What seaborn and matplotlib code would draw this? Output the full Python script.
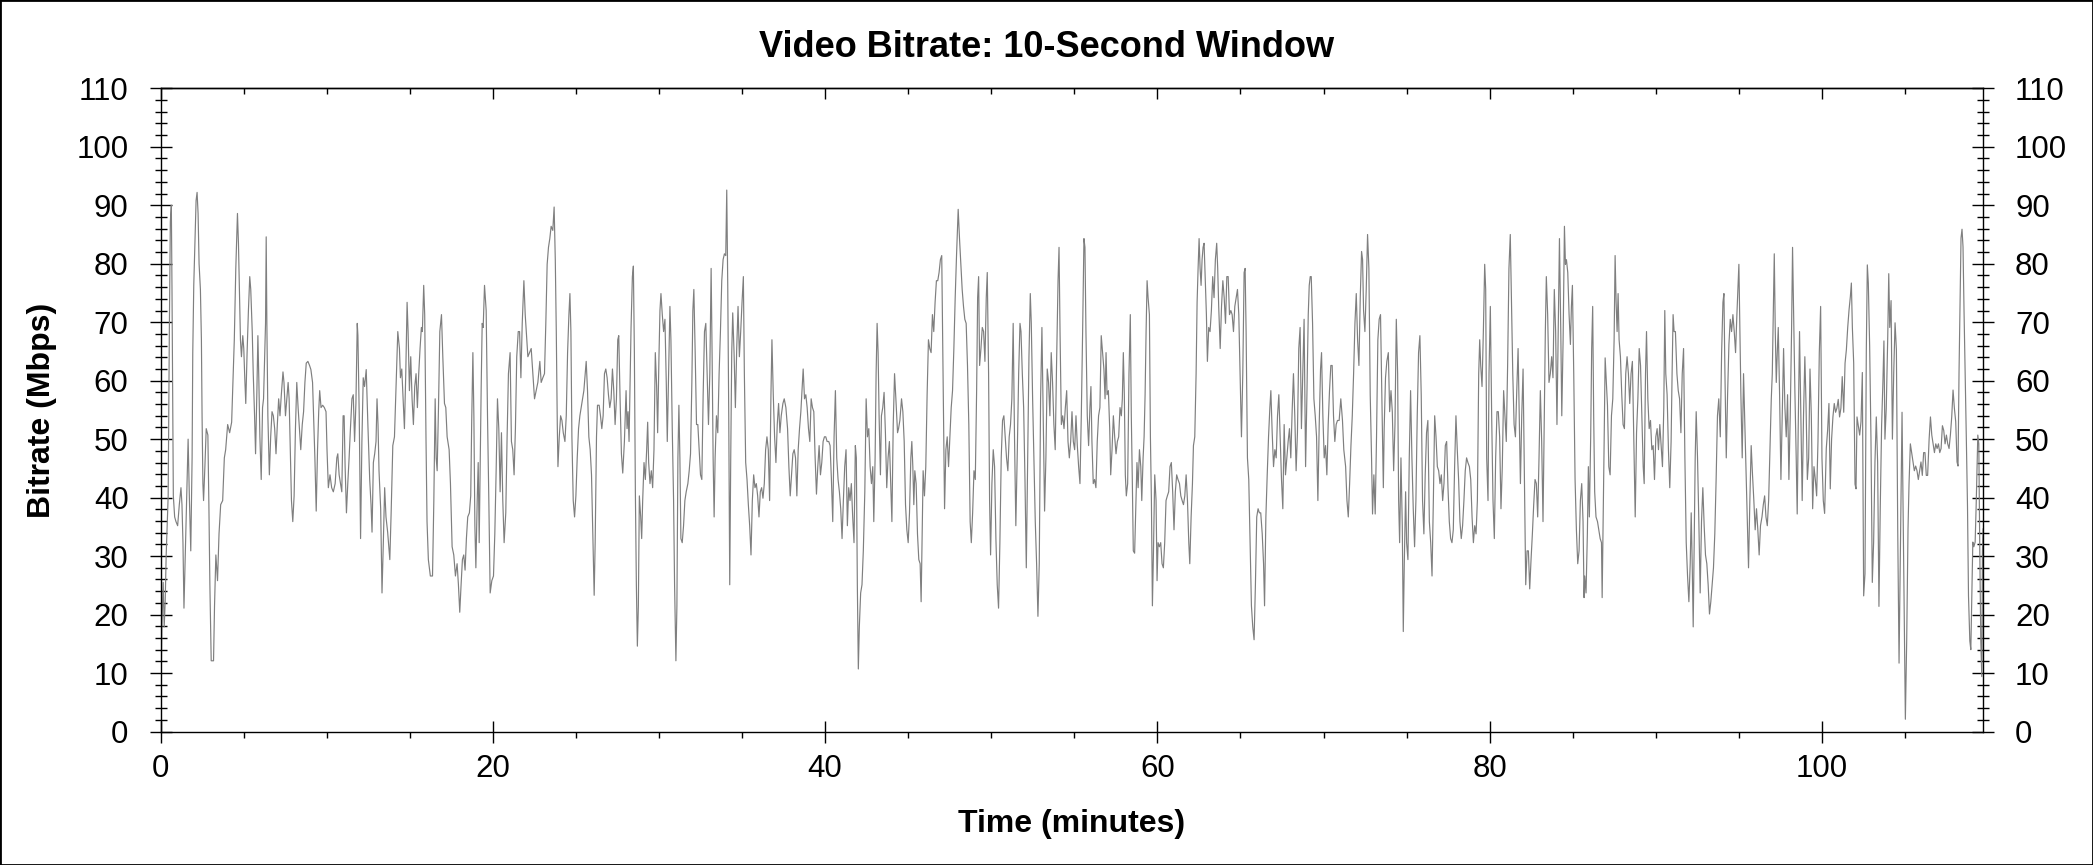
import numpy as np
import pandas as pd
import seaborn as sns
import matplotlib.pyplot as plt
from matplotlib.patches import Rectangle
from matplotlib.ticker import MultipleLocator

# (minute, Mbps), one list per stretch of the film
seg_00 = [(0.00, 1.0), (0.08, 17.9), (0.16, 25.5), (0.22, 17.9), (0.28, 22.2), (0.34, 30.2), (0.40, 35.2),
          (0.46, 40.3), (0.53, 68.4), (0.59, 87.2), (0.65, 90.0), (0.69, 75.6), (0.73, 56.9), (0.77, 40.3),
          (0.85, 36.7), (0.93, 35.9), (1.03, 35.2), (1.13, 38.8), (1.23, 41.7), (1.29, 38.8), (1.35, 32.3),
          (1.41, 21.1), (1.49, 30.2), (1.58, 40.3), (1.66, 50.0), (1.74, 39.5), (1.82, 30.9), (1.90, 46.8),
          (1.94, 64.8), (2.00, 76.3), (2.06, 82.8), (2.14, 90.8), (2.20, 92.2), (2.26, 88.6), (2.32, 80.0),
          (2.40, 75.6), (2.46, 67.0), (2.50, 54.0), (2.55, 42.4), (2.59, 39.5), (2.67, 45.3), (2.75, 51.8),
          (2.85, 50.7), (2.91, 38.8), (2.97, 25.1), (3.05, 12.1), (3.19, 12.1), (3.25, 21.5), (3.33, 30.2),
          (3.43, 25.8), (3.52, 33.8), (3.62, 38.8), (3.74, 39.5), (3.84, 46.8), (3.92, 48.2), (4.04, 52.5),
          (4.16, 51.1), (4.28, 52.9), (4.36, 59.7), (4.44, 67.0), (4.53, 79.2), (4.63, 88.6), (4.69, 83.5),
          (4.75, 74.9), (4.81, 67.0), (4.87, 64.1), (4.95, 67.7), (5.01, 65.5), (5.07, 60.5), (5.13, 56.1),
          (5.21, 64.8), (5.29, 72.0), (5.37, 77.8), (5.43, 75.6), (5.52, 68.4), (5.58, 61.2), (5.66, 54.0),
          (5.72, 47.5), (5.80, 58.3), (5.86, 67.7), (5.92, 59.7), (5.98, 50.4), (6.06, 43.1), (6.14, 55.4),
          (6.20, 56.9), (6.26, 63.3), (6.32, 69.8), (6.36, 84.6), (6.40, 69.8), (6.46, 54.0), (6.55, 43.9),
          (6.63, 50.4), (6.71, 54.7), (6.79, 54.0), (6.87, 51.8), (6.95, 47.5), (7.03, 52.5), (7.11, 56.9),
          (7.19, 54.0), (7.27, 57.6), (7.37, 61.5), (7.43, 59.7), (7.52, 54.0), (7.60, 56.9), (7.68, 59.7),
          (7.74, 56.9), (7.80, 49.6), (7.88, 39.5), (7.96, 35.9), (8.04, 40.3), (8.12, 51.8), (8.20, 59.7),
          (8.28, 55.4), (8.36, 51.8), (8.44, 48.2), (8.53, 52.5), (8.61, 54.7), (8.69, 59.7), (8.77, 63.0),
          (8.87, 63.3), (8.97, 62.6), (9.05, 61.9), (9.15, 59.7), (9.21, 54.0), (9.29, 46.8), (9.37, 37.7),
          (9.45, 48.2), (9.52, 54.7), (9.58, 58.3), (9.66, 55.4), (9.76, 55.8), (9.86, 55.4), (9.96, 54.7),
          (10.02, 48.2), (10.10, 41.7), (10.20, 43.9), (10.30, 41.7), (10.40, 41.0), (10.51, 42.4),
          (10.61, 46.8), (10.67, 47.5), (10.75, 43.9), (10.83, 42.4), (10.91, 41.0), (10.99, 54.0),
          (11.05, 54.0), (11.11, 45.3), (11.19, 37.4), (11.27, 42.4), (11.35, 46.8), (11.43, 51.8),
          (11.52, 56.9), (11.60, 57.6), (11.68, 49.6), (11.76, 56.1), (11.84, 69.8), (11.88, 67.7),
          (11.96, 54.0), (12.04, 33.0), (12.12, 49.6), (12.20, 60.5), (12.28, 59.0), (12.38, 61.9),
          (12.48, 52.5), (12.59, 43.1), (12.67, 38.8), (12.73, 34.1), (12.81, 46.0), (12.89, 47.5),
          (12.97, 49.6), (13.03, 56.9), (13.09, 52.5), (13.15, 44.6), (13.25, 38.1), (13.33, 23.7),
          (13.41, 32.3), (13.49, 41.7)]

seg_14 = [(13.57, 36.7), (13.67, 34.1), (13.80, 29.4), (13.88, 37.4), (13.98, 48.9), (14.08, 50.4),
          (14.18, 59.7), (14.28, 68.4), (14.38, 65.5), (14.44, 60.5), (14.52, 62.0), (14.60, 56.9),
          (14.68, 51.8), (14.76, 61.2), (14.84, 73.4), (14.90, 68.4), (14.98, 58.3), (15.06, 64.1),
          (15.14, 56.9), (15.22, 52.5), (15.30, 59.0), (15.38, 61.2), (15.46, 55.4), (15.54, 61.2),
          (15.62, 65.5), (15.70, 69.1), (15.76, 68.4), (15.84, 76.3), (15.90, 71.3), (15.98, 49.6),
          (16.04, 35.9), (16.12, 29.4), (16.24, 26.6), (16.37, 26.6), (16.45, 39.5), (16.53, 56.9),
          (16.59, 46.8), (16.65, 44.6), (16.73, 55.4), (16.81, 68.4), (16.91, 71.3), (16.99, 64.1),
          (17.09, 56.1), (17.17, 55.4), (17.25, 50.4), (17.37, 48.2), (17.45, 42.4), (17.55, 31.6),
          (17.65, 30.2), (17.75, 26.6), (17.85, 28.7), (17.93, 25.1), (18.01, 20.4), (18.09, 25.1),
          (18.17, 29.4), (18.25, 30.2), (18.33, 27.6), (18.41, 33.0), (18.49, 36.7), (18.59, 37.4),
          (18.67, 40.3), (18.73, 53.2), (18.80, 64.8), (18.86, 54.0), (18.92, 35.2), (18.98, 28.0),
          (19.06, 39.5), (19.12, 46.0), (19.18, 32.3), (19.24, 45.3), (19.30, 59.0), (19.36, 69.8),
          (19.42, 69.1), (19.50, 76.3), (19.60, 72.0), (19.68, 54.0), (19.76, 39.5), (19.84, 23.7),
          (19.94, 25.8), (20.04, 26.6), (20.12, 33.8), (20.20, 44.6), (20.28, 56.9), (20.36, 51.8),
          (20.44, 41.0), (20.52, 51.1), (20.60, 39.5), (20.68, 32.3), (20.78, 37.4), (20.86, 50.4),
          (20.94, 61.2), (21.04, 64.8), (21.12, 49.6), (21.20, 48.2), (21.28, 43.9), (21.36, 51.8),
          (21.44, 64.1), (21.53, 68.4), (21.61, 68.4), (21.69, 60.5), (21.77, 69.8), (21.87, 77.1),
          (21.95, 71.3), (22.03, 67.7), (22.11, 64.1), (22.21, 64.8), (22.31, 65.5), (22.41, 61.2),
          (22.51, 56.9), (22.61, 58.3), (22.71, 59.7), (22.83, 63.3), (22.91, 59.7), (23.01, 60.5),
          (23.11, 61.2), (23.19, 69.8), (23.27, 79.9), (23.35, 82.8), (23.43, 84.3), (23.51, 86.4),
          (23.61, 85.7), (23.69, 89.7), (23.76, 80.7), (23.82, 68.4), (23.88, 52.5), (23.92, 45.3),
          (24.00, 50.4), (24.08, 54.0), (24.16, 53.2), (24.24, 51.1), (24.34, 49.6), (24.42, 54.0),
          (24.50, 64.8), (24.58, 71.3), (24.64, 74.9), (24.70, 68.4), (24.76, 50.4), (24.84, 39.5),
          (24.92, 36.7), (25.00, 40.3), (25.08, 46.8), (25.16, 51.8), (25.24, 54.0), (25.32, 55.4),
          (25.40, 56.9), (25.48, 58.3), (25.54, 60.5), (25.62, 63.3), (25.70, 58.3), (25.78, 50.4),
          (25.86, 48.2), (25.94, 43.9), (26.02, 33.8), (26.10, 23.3), (26.16, 32.3), (26.24, 50.4),
          (26.30, 55.8), (26.40, 55.8), (26.48, 54.0), (26.56, 51.8), (26.64, 54.0), (26.72, 61.2),
          (26.80, 62.0), (26.88, 60.5), (26.96, 57.6), (27.04, 55.4), (27.12, 56.9), (27.20, 62.0),
          (27.28, 58.3), (27.36, 52.5), (27.44, 56.9), (27.52, 67.0), (27.58, 67.7), (27.66, 56.9),
          (27.74, 47.5), (27.82, 44.2), (27.92, 49.6)]

seg_28 = [(28.02, 58.3), (28.08, 51.8), (28.14, 54.7), (28.20, 49.6), (28.26, 59.7), (28.32, 69.1),
          (28.40, 77.8), (28.46, 79.6), (28.52, 64.8), (28.58, 41.0), (28.64, 25.1), (28.70, 14.6),
          (28.76, 21.5), (28.82, 40.3), (28.90, 36.7), (28.96, 33.0), (29.02, 39.5), (29.10, 46.0),
          (29.18, 43.1), (29.26, 48.2), (29.32, 52.9), (29.38, 46.0), (29.46, 42.4), (29.54, 44.6),
          (29.62, 41.7), (29.70, 48.2), (29.78, 64.8), (29.86, 59.0), (29.92, 51.1), (30.00, 64.1),
          (30.06, 72.0), (30.12, 74.9), (30.20, 71.3), (30.28, 68.4), (30.36, 70.5), (30.44, 59.7),
          (30.50, 49.6), (30.58, 61.2), (30.66, 72.7), (30.72, 67.0), (30.80, 51.8), (30.88, 39.5),
          (30.94, 25.1), (31.02, 12.1), (31.08, 21.5), (31.14, 46.8), (31.20, 55.8), (31.26, 46.8),
          (31.32, 33.0), (31.40, 32.3), (31.48, 35.2), (31.56, 39.5), (31.64, 41.0), (31.74, 42.4),
          (31.82, 44.6), (31.90, 47.5), (31.98, 59.7), (32.04, 72.0), (32.10, 75.6), (32.18, 64.8),
          (32.26, 52.5), (32.34, 52.5), (32.42, 48.2), (32.50, 43.9), (32.58, 43.1), (32.66, 57.6),
          (32.74, 68.4), (32.82, 69.8), (32.90, 61.2), (32.98, 52.5), (33.06, 61.2), (33.14, 79.2),
          (33.20, 64.1), (33.26, 46.8), (33.32, 36.7), (33.38, 46.8), (33.46, 54.0), (33.54, 51.1),
          (33.62, 61.2), (33.70, 68.4), (33.78, 77.1), (33.86, 80.7), (33.94, 81.7), (34.02, 81.4),
          (34.08, 92.6), (34.14, 76.3), (34.20, 54.0), (34.26, 25.1), (34.32, 46.8), (34.38, 64.8),
          (34.44, 71.6), (34.52, 64.8), (34.60, 55.4), (34.68, 65.5), (34.76, 72.7), (34.84, 64.1),
          (34.92, 68.4), (35.00, 73.4), (35.08, 77.8), (35.14, 61.2), (35.22, 46.0), (35.30, 43.1),
          (35.38, 38.8), (35.46, 35.2), (35.54, 30.2), (35.62, 39.5), (35.70, 43.9), (35.78, 41.7),
          (35.86, 42.4), (35.94, 40.3), (36.02, 36.7), (36.10, 41.0), (36.18, 41.7), (36.26, 39.9),
          (36.34, 42.4), (36.42, 48.2), (36.50, 50.4), (36.58, 48.2), (36.66, 39.5), (36.74, 57.6),
          (36.80, 67.0), (36.88, 57.6), (36.96, 50.4), (37.04, 46.0), (37.12, 52.5), (37.20, 56.1),
          (37.28, 51.1), (37.36, 54.0), (37.46, 56.1), (37.54, 56.9), (37.64, 55.4), (37.74, 51.8),
          (37.82, 45.3), (37.90, 40.3), (37.98, 43.9), (38.06, 47.5), (38.14, 48.2), (38.22, 46.8),
          (38.30, 40.3), (38.38, 48.2), (38.46, 51.8), (38.54, 54.7), (38.62, 59.0), (38.68, 62.0),
          (38.76, 56.9), (38.84, 57.6), (38.92, 55.4), (39.00, 51.8), (39.08, 49.6), (39.16, 56.9),
          (39.24, 55.4), (39.32, 54.7), (39.40, 46.8), (39.48, 40.6), (39.56, 45.3), (39.64, 48.9),
          (39.72, 43.9), (39.80, 46.0), (39.88, 49.6), (39.96, 50.4), (40.04, 50.4), (40.12, 49.6),
          (40.22, 49.6), (40.30, 48.9), (40.38, 43.1), (40.46, 35.9), (40.54, 50.4), (40.62, 58.3),
          (40.70, 46.8), (40.78, 43.1), (40.86, 41.0), (40.94, 38.1), (41.02, 33.0), (41.10, 39.5),
          (41.18, 45.3), (41.26, 48.2), (41.34, 35.2), (41.42, 41.7), (41.50, 39.5), (41.58, 42.4),
          (41.66, 36.7), (41.74, 32.3), (41.82, 48.9), (41.88, 46.8), (41.94, 25.1), (42.00, 10.7),
          (42.06, 17.9), (42.14, 23.7), (42.22, 25.1), (42.30, 30.9)]

seg_42 = [(42.39, 41.0), (42.47, 56.9), (42.55, 50.4), (42.63, 51.8), (42.71, 45.3), (42.79, 42.4),
          (42.87, 45.3), (42.93, 35.9), (43.01, 46.8), (43.07, 61.2), (43.13, 69.8), (43.19, 64.8),
          (43.25, 54.0), (43.33, 43.9), (43.39, 54.0), (43.47, 55.4), (43.55, 58.0), (43.63, 51.1),
          (43.71, 41.7), (43.79, 46.8), (43.87, 49.6), (43.95, 42.4), (44.02, 35.9), (44.10, 52.5),
          (44.18, 61.2), (44.26, 56.9), (44.36, 51.1), (44.42, 51.8), (44.50, 53.2), (44.60, 56.9),
          (44.68, 54.7), (44.76, 49.6), (44.84, 38.8), (44.92, 34.5), (45.00, 32.3), (45.08, 37.4),
          (45.16, 46.8), (45.22, 49.6), (45.28, 45.3), (45.34, 38.8), (45.40, 44.6), (45.48, 42.4),
          (45.56, 33.8), (45.64, 29.4), (45.72, 28.7), (45.78, 22.2), (45.84, 33.8), (45.90, 44.6),
          (45.98, 40.3), (46.06, 45.3), (46.14, 57.6), (46.22, 67.0), (46.30, 65.5), (46.38, 64.8),
          (46.46, 71.3), (46.54, 68.4), (46.62, 73.4), (46.70, 77.1), (46.78, 77.1), (46.86, 78.5),
          (46.94, 80.7), (47.02, 81.4), (47.10, 61.2), (47.19, 38.1), (47.27, 48.2), (47.35, 50.4),
          (47.43, 45.3), (47.51, 50.4), (47.59, 55.4), (47.67, 58.3), (47.75, 65.5), (47.83, 74.2),
          (47.91, 81.4), (48.01, 89.3), (48.09, 84.3), (48.17, 79.9), (48.25, 75.6), (48.33, 72.7),
          (48.41, 70.5), (48.49, 69.8), (48.57, 62.6), (48.65, 52.5), (48.73, 35.9), (48.80, 32.3),
          (48.88, 37.4), (48.96, 44.6), (49.04, 43.1), (49.12, 58.3), (49.18, 74.2), (49.24, 77.8),
          (49.30, 62.6), (49.38, 65.5), (49.46, 69.1), (49.54, 68.4), (49.62, 63.3), (49.70, 74.2),
          (49.76, 78.5), (49.84, 61.2), (49.90, 39.5), (49.96, 30.2), (50.04, 42.4), (50.12, 48.2),
          (50.20, 45.3), (50.28, 33.0), (50.36, 25.1), (50.44, 21.1), (50.52, 32.3), (50.60, 46.8),
          (50.68, 53.2), (50.76, 54.0), (50.84, 50.4), (50.92, 46.8), (51.00, 44.6), (51.08, 50.4),
          (51.16, 52.5), (51.24, 56.9), (51.32, 69.8), (51.40, 50.4), (51.48, 35.2), (51.57, 48.2),
          (51.65, 61.2), (51.73, 69.8), (51.79, 68.4), (51.87, 61.2), (51.95, 55.4), (52.03, 43.1),
          (52.11, 28.0), (52.19, 46.8), (52.27, 64.1), (52.35, 74.9), (52.41, 69.8), (52.49, 56.9),
          (52.57, 46.8), (52.65, 35.9), (52.73, 28.7), (52.81, 19.7), (52.89, 28.7), (52.97, 56.9),
          (53.05, 69.1), (53.13, 54.0), (53.21, 37.7), (53.29, 46.8), (53.37, 62.0), (53.45, 59.7),
          (53.53, 54.0), (53.61, 64.8), (53.69, 59.7), (53.77, 52.5), (53.85, 48.2), (53.93, 62.6),
          (54.02, 77.1), (54.08, 82.8), (54.14, 68.4), (54.22, 52.5), (54.30, 54.0), (54.38, 51.8),
          (54.46, 55.4), (54.54, 58.3), (54.62, 49.6), (54.70, 46.8), (54.78, 49.6), (54.86, 54.7),
          (54.94, 49.6), (55.02, 48.2), (55.10, 54.0), (55.18, 48.9), (55.26, 45.3), (55.34, 42.4),
          (55.42, 54.0), (55.50, 68.4), (55.58, 84.3), (55.64, 82.8), (55.70, 68.4), (55.78, 54.0),
          (55.86, 48.9), (55.94, 55.4), (56.00, 59.0), (56.06, 49.6), (56.14, 42.4), (56.22, 43.1),
          (56.30, 41.7), (56.38, 49.6), (56.46, 54.0), (56.54, 55.4), (56.62, 67.7), (56.70, 64.8),
          (56.78, 62.0)]

seg_57 = [(56.85, 56.9), (56.91, 64.8), (56.97, 57.6), (57.05, 58.3), (57.13, 51.8), (57.19, 43.9),
          (57.27, 48.2), (57.35, 54.0), (57.43, 50.4), (57.51, 47.5), (57.59, 49.6), (57.67, 50.4),
          (57.75, 55.4), (57.83, 54.0), (57.89, 56.9), (57.95, 64.8), (58.01, 57.6), (58.07, 43.9),
          (58.13, 40.3), (58.21, 42.4), (58.29, 61.2), (58.37, 71.3), (58.43, 54.0), (58.49, 43.1),
          (58.55, 30.9), (58.63, 30.5), (58.71, 39.5), (58.77, 46.0), (58.84, 41.7), (58.92, 48.2),
          (59.00, 45.3), (59.06, 39.5), (59.14, 46.8), (59.20, 50.4), (59.26, 57.6), (59.32, 68.4),
          (59.38, 77.1), (59.44, 74.2), (59.52, 71.3), (59.58, 50.4), (59.64, 39.5), (59.70, 21.5),
          (59.76, 30.2), (59.84, 43.9), (59.92, 39.5), (59.98, 25.8), (60.04, 32.3), (60.12, 31.6),
          (60.20, 32.3), (60.28, 28.7), (60.36, 28.0), (60.44, 32.3), (60.52, 39.5), (60.60, 40.3),
          (60.68, 41.0), (60.76, 45.3), (60.84, 46.0), (60.92, 41.0), (61.00, 34.5), (61.08, 41.0),
          (61.16, 43.9), (61.24, 43.1), (61.33, 42.4), (61.41, 40.3), (61.49, 39.5), (61.57, 38.8),
          (61.65, 40.3), (61.73, 43.9), (61.81, 39.5), (61.89, 32.3), (61.95, 28.7), (62.03, 36.7),
          (62.11, 42.4), (62.17, 48.9), (62.25, 50.4), (62.33, 61.2), (62.39, 73.4), (62.45, 79.2),
          (62.51, 84.3), (62.57, 79.2), (62.63, 76.3), (62.69, 80.7), (62.75, 82.8), (62.81, 83.5),
          (62.87, 78.5), (62.95, 71.3), (63.01, 63.3), (63.09, 69.1), (63.17, 68.4), (63.25, 72.0),
          (63.33, 77.8), (63.41, 74.2), (63.49, 80.7), (63.57, 83.5), (63.63, 79.2), (63.69, 72.7),
          (63.78, 65.5), (63.86, 72.7), (63.94, 77.1), (64.02, 74.2), (64.10, 69.8), (64.18, 77.8),
          (64.26, 77.8), (64.34, 71.3), (64.42, 72.0), (64.50, 71.3), (64.58, 68.4), (64.66, 72.7),
          (64.74, 74.2), (64.82, 75.6), (64.90, 71.3), (64.98, 61.2), (65.06, 50.4), (65.14, 61.2),
          (65.22, 78.5), (65.28, 79.2), (65.34, 68.4), (65.42, 46.8), (65.50, 43.1), (65.58, 32.3),
          (65.66, 21.5), (65.74, 17.9), (65.82, 15.7), (65.90, 25.1), (65.98, 36.7), (66.06, 38.1),
          (66.14, 37.4), (66.22, 37.4), (66.31, 33.8), (66.39, 28.7), (66.45, 21.5), (66.53, 36.7),
          (66.61, 43.9), (66.69, 50.4), (66.77, 55.4), (66.83, 58.3), (66.91, 51.1), (66.99, 45.3),
          (67.07, 48.2), (67.15, 46.8), (67.23, 54.0), (67.31, 57.6), (67.39, 50.4), (67.47, 43.1),
          (67.55, 38.1), (67.63, 52.5), (67.71, 43.9), (67.79, 46.8), (67.87, 49.6), (67.95, 51.8),
          (68.03, 46.8), (68.11, 54.7), (68.19, 61.2), (68.27, 54.0), (68.35, 44.6), (68.43, 51.1),
          (68.51, 65.5), (68.59, 69.1), (68.67, 51.8), (68.75, 61.2), (68.83, 70.5), (68.92, 45.3),
          (69.00, 57.6), (69.08, 71.3), (69.14, 76.3), (69.20, 77.8), (69.26, 77.8), (69.34, 69.8),
          (69.42, 56.9), (69.50, 54.0), (69.58, 50.4), (69.66, 39.5), (69.74, 52.5), (69.82, 62.0),
          (69.88, 64.8), (69.96, 54.0), (70.04, 46.8), (70.12, 48.9), (70.20, 43.9), (70.28, 52.5),
          (70.36, 58.3), (70.44, 62.6), (70.52, 62.6), (70.60, 54.0), (70.68, 49.6), (70.76, 52.5),
          (70.84, 53.2), (70.94, 53.2), (71.04, 56.9), (71.14, 53.2), (71.22, 48.2)]

seg_71 = [(71.33, 45.3), (71.41, 39.5), (71.49, 36.7), (71.57, 42.4), (71.65, 48.9), (71.73, 54.0),
          (71.81, 61.2), (71.89, 69.8), (71.97, 74.9), (72.05, 67.0), (72.13, 62.6), (72.21, 74.2),
          (72.29, 82.1), (72.35, 80.7), (72.41, 72.0), (72.49, 68.4), (72.57, 75.6), (72.65, 85.0),
          (72.73, 79.2), (72.81, 57.6), (72.89, 46.8), (72.95, 37.2), (73.03, 43.9), (73.11, 37.2),
          (73.19, 50.4), (73.27, 67.0), (73.35, 70.5), (73.43, 71.3), (73.51, 57.6), (73.60, 41.7),
          (73.65, 51.8), (73.73, 60.5), (73.81, 63.3), (73.90, 64.8), (73.98, 54.7), (74.06, 58.3),
          (74.14, 54.7), (74.22, 44.6), (74.30, 52.5), (74.38, 70.5), (74.46, 61.2), (74.52, 39.5),
          (74.58, 32.3), (74.66, 46.8), (74.74, 35.2), (74.80, 17.1), (74.86, 28.7), (74.94, 41.0),
          (75.00, 32.3), (75.08, 29.4), (75.16, 46.8), (75.24, 58.3), (75.32, 46.8), (75.40, 38.1),
          (75.48, 31.6), (75.56, 39.5), (75.64, 54.0), (75.72, 64.8), (75.80, 67.7), (75.88, 57.6),
          (75.96, 39.5), (76.04, 33.8), (76.12, 43.9), (76.20, 51.1), (76.28, 53.2), (76.37, 35.9),
          (76.45, 32.3), (76.53, 26.6), (76.61, 39.5), (76.69, 54.0), (76.77, 50.4), (76.85, 45.3),
          (76.93, 44.6), (77.01, 42.4), (77.09, 43.9), (77.17, 39.5), (77.25, 42.4), (77.33, 48.9),
          (77.41, 49.6), (77.49, 41.7), (77.57, 35.9), (77.65, 33.0), (77.73, 32.3), (77.81, 34.5),
          (77.89, 45.3), (77.97, 54.0), (78.05, 48.2), (78.13, 43.1), (78.21, 35.9), (78.29, 33.0),
          (78.37, 35.2), (78.45, 39.5), (78.53, 44.6), (78.61, 46.8), (78.69, 46.0), (78.78, 45.3),
          (78.86, 43.1), (78.94, 36.7), (79.02, 32.3), (79.10, 35.2), (79.18, 33.8), (79.26, 39.5),
          (79.34, 61.2), (79.40, 67.0), (79.46, 62.6), (79.54, 59.0), (79.62, 68.4), (79.70, 79.9),
          (79.76, 75.6), (79.82, 46.8), (79.90, 39.5), (79.96, 61.2), (80.04, 72.7), (80.12, 54.0),
          (80.20, 39.5), (80.28, 33.0), (80.36, 46.8), (80.44, 54.7), (80.52, 54.7), (80.60, 50.4),
          (80.68, 38.1), (80.76, 45.3), (80.84, 58.3), (80.92, 54.0), (81.00, 49.6), (81.08, 62.6),
          (81.16, 79.2), (81.24, 85.0), (81.30, 75.6), (81.39, 61.2), (81.47, 52.5), (81.55, 50.4),
          (81.63, 58.3), (81.71, 65.5), (81.79, 52.5), (81.85, 42.4), (81.93, 54.0), (82.01, 62.0),
          (82.09, 43.1), (82.17, 25.1), (82.25, 30.9), (82.33, 30.9), (82.41, 24.4), (82.49, 29.4),
          (82.57, 33.8), (82.65, 38.8), (82.73, 43.1), (82.81, 42.4), (82.89, 36.7), (82.97, 46.8),
          (83.05, 58.3), (83.13, 49.6), (83.21, 35.9), (83.29, 54.0), (83.35, 68.4), (83.41, 77.8),
          (83.49, 71.3), (83.57, 59.7), (83.65, 61.2), (83.73, 64.1), (83.81, 60.5), (83.89, 75.6),
          (83.97, 68.4), (84.05, 52.5), (84.13, 69.8), (84.20, 84.3), (84.28, 68.4), (84.34, 54.0),
          (84.42, 67.0), (84.50, 86.4), (84.56, 79.9), (84.62, 80.7), (84.70, 78.5), (84.78, 71.3),
          (84.86, 66.2), (84.92, 72.7), (84.98, 76.3), (85.06, 61.2), (85.14, 43.1), (85.22, 34.5),
          (85.30, 28.7), (85.38, 30.9), (85.46, 39.5), (85.54, 42.4), (85.62, 35.9), (85.68, 22.9)]

seg_86 = [(85.72, 26.6), (85.80, 23.7), (85.88, 33.8), (85.94, 45.3), (86.00, 36.7), (86.08, 50.4),
          (86.14, 65.5), (86.20, 72.7), (86.26, 54.0), (86.32, 41.0), (86.40, 36.7), (86.49, 35.9),
          (86.57, 34.5), (86.65, 33.0), (86.73, 32.3), (86.77, 22.9), (86.83, 35.9), (86.89, 49.6),
          (86.95, 63.9), (87.01, 60.3), (87.09, 55.8), (87.17, 45.3), (87.25, 43.9), (87.33, 54.0),
          (87.41, 56.9), (87.49, 67.0), (87.55, 81.4), (87.61, 73.4), (87.67, 68.4), (87.73, 74.9),
          (87.79, 67.0), (87.87, 64.1), (87.95, 57.6), (88.03, 52.5), (88.11, 51.8), (88.19, 61.2),
          (88.27, 64.1), (88.35, 61.2), (88.43, 56.1), (88.51, 61.2), (88.59, 63.3), (88.67, 50.4),
          (88.76, 36.7), (88.84, 51.1), (88.92, 56.9), (89.00, 65.5), (89.08, 62.6), (89.16, 54.0),
          (89.24, 45.3), (89.30, 42.4), (89.38, 61.2), (89.44, 68.4), (89.52, 56.9), (89.60, 51.8),
          (89.68, 53.2), (89.76, 48.2), (89.84, 48.9), (89.92, 43.1), (90.00, 50.4), (90.08, 51.8),
          (90.16, 48.2), (90.24, 52.5), (90.32, 48.9), (90.40, 45.3), (90.48, 55.4), (90.54, 72.0),
          (90.60, 61.2), (90.68, 57.6), (90.76, 48.2), (90.84, 41.7), (90.92, 49.6), (90.98, 61.2),
          (91.04, 71.3), (91.10, 68.4), (91.18, 68.4), (91.27, 61.2), (91.35, 58.3), (91.43, 56.9),
          (91.51, 51.1), (91.59, 61.2), (91.67, 65.5), (91.75, 46.8), (91.83, 32.3), (91.91, 26.6),
          (91.99, 22.2), (92.07, 28.7), (92.13, 37.4), (92.19, 28.7), (92.25, 17.9), (92.31, 32.3),
          (92.37, 46.8), (92.43, 54.7), (92.51, 46.8), (92.59, 35.9), (92.67, 23.7), (92.75, 35.9),
          (92.83, 41.7), (92.91, 35.2), (92.99, 30.2), (93.07, 28.7), (93.15, 25.1), (93.23, 20.1),
          (93.31, 22.2), (93.39, 25.1), (93.47, 28.0), (93.55, 33.8), (93.63, 43.1), (93.71, 54.0),
          (93.79, 56.9), (93.88, 50.4), (93.96, 64.8), (94.04, 73.4), (94.10, 74.9), (94.16, 61.2),
          (94.24, 46.8), (94.32, 57.6), (94.40, 66.2), (94.48, 70.5), (94.56, 68.4), (94.64, 71.3),
          (94.72, 68.4), (94.80, 64.8), (94.88, 71.3), (94.94, 75.6), (95.00, 79.9), (95.06, 68.4),
          (95.12, 57.6), (95.20, 46.8), (95.28, 61.2), (95.36, 52.5), (95.44, 43.1), (95.52, 35.2),
          (95.58, 28.0), (95.66, 39.5), (95.74, 48.9), (95.82, 43.9), (95.90, 39.5), (95.98, 34.5),
          (96.06, 38.1), (96.14, 34.5), (96.22, 30.2), (96.30, 35.2), (96.39, 36.7), (96.47, 38.8),
          (96.55, 40.3), (96.63, 36.7), (96.71, 35.2), (96.79, 39.5), (96.87, 48.2), (96.95, 56.9),
          (97.01, 61.2), (97.07, 71.3), (97.13, 81.7), (97.19, 68.4), (97.25, 59.7), (97.31, 64.8),
          (97.37, 69.1), (97.45, 57.6), (97.53, 43.1), (97.61, 54.0), (97.69, 65.5), (97.77, 55.4),
          (97.85, 50.4), (97.93, 57.6), (98.01, 43.1), (98.09, 54.0), (98.17, 68.4), (98.23, 82.8),
          (98.29, 72.0), (98.37, 58.3), (98.45, 46.8), (98.51, 37.2), (98.57, 51.8), (98.65, 68.4),
          (98.73, 54.0), (98.81, 39.5), (98.89, 54.0), (98.97, 64.1), (99.04, 56.1), (99.12, 43.1),
          (99.20, 46.8), (99.28, 62.0), (99.36, 54.0), (99.44, 38.1), (99.52, 45.3), (99.60, 43.1),
          (99.68, 40.3), (99.76, 49.6), (99.84, 64.8), (99.92, 72.7), (100.00, 46.8), (100.08, 39.5)]

seg_100 = [(100.16, 37.3), (100.26, 48.4), (100.34, 51.5), (100.42, 56.1), (100.50, 41.5), (100.58, 50.0),
           (100.66, 53.8), (100.74, 56.1), (100.82, 54.6), (100.90, 55.3), (100.98, 56.8), (101.06, 53.8),
           (101.14, 55.3), (101.22, 60.7), (101.31, 54.6), (101.39, 63.0), (101.47, 65.3), (101.55, 69.1),
           (101.63, 72.1), (101.71, 74.4), (101.77, 76.7), (101.83, 69.1), (101.91, 63.0), (101.99, 42.3),
           (102.05, 41.5), (102.11, 53.8), (102.19, 52.3), (102.27, 50.7), (102.35, 53.0), (102.43, 61.4),
           (102.51, 23.2), (102.59, 27.0), (102.67, 65.3), (102.73, 79.8), (102.79, 76.7), (102.87, 66.0),
           (102.95, 50.0), (103.03, 25.5), (103.11, 32.4), (103.19, 46.1), (103.27, 53.8), (103.35, 46.1),
           (103.43, 21.4), (103.51, 38.5), (103.59, 52.3), (103.67, 59.9), (103.73, 66.8), (103.79, 50.0),
           (103.87, 55.3), (103.96, 67.6), (104.02, 78.3), (104.08, 69.1), (104.16, 73.7), (104.24, 50.0),
           (104.32, 61.4), (104.40, 69.9), (104.48, 65.3), (104.56, 34.7), (104.64, 11.7), (104.74, 34.7),
           (104.82, 54.6), (104.88, 38.5), (104.96, 15.5), (105.02, 2.1), (105.10, 15.5), (105.18, 34.7),
           (105.24, 42.3), (105.32, 49.2), (105.40, 47.7), (105.48, 46.1), (105.56, 44.6), (105.64, 45.4),
           (105.72, 44.6), (105.80, 43.1), (105.88, 44.6), (105.96, 46.1), (106.04, 43.8), (106.12, 47.7),
           (106.20, 47.7), (106.28, 43.8), (106.36, 43.8), (106.45, 50.0), (106.53, 53.8), (106.61, 50.7),
           (106.69, 49.2), (106.77, 47.7), (106.85, 49.2), (106.93, 48.4), (107.01, 49.2), (107.09, 47.7),
           (107.17, 48.4), (107.25, 52.3), (107.33, 51.5), (107.41, 49.2), (107.49, 50.7), (107.57, 49.2),
           (107.65, 48.4), (107.73, 50.7), (107.81, 53.8), (107.89, 58.4), (107.97, 55.3), (108.05, 53.0),
           (108.13, 46.1), (108.19, 45.4), (108.25, 61.4), (108.31, 72.9), (108.37, 84.4), (108.43, 85.9),
           (108.49, 82.9), (108.55, 72.1), (108.61, 63.0), (108.69, 50.0), (108.76, 38.5), (108.82, 23.2),
           (108.90, 15.5), (108.96, 14.0), (109.02, 23.2), (109.08, 32.4), (109.14, 31.6), (109.22, 32.4),
           (109.28, 38.5), (109.34, 46.1), (109.38, 50.7), (109.44, 49.2), (109.50, 30.8), (109.56, 15.5),
           (109.62, 9.4), (109.66, 30.8), (109.70, 34.7)]

x_major = [0, 20, 40, 60, 80, 100]
y_major = [0, 10, 20, 30, 40, 50, 60, 70, 80, 90, 100, 110]
title = 'Video Bitrate: 10-Second Window'
x_label = 'Time (minutes)'
y_label = 'Bitrate (Mbps)'

df = pd.DataFrame(seg_00 + seg_14 + seg_28 + seg_42 + seg_57 + seg_71 + seg_86 + seg_100,
                  columns=[x_label, y_label])

sns.set_theme(style='white')
plt.rcParams['font.family'] = ['Liberation Sans', 'DejaVu Sans']
plt.rcParams['text.color'] = 'black'
plt.rcParams['axes.labelcolor'] = 'black'
plt.rcParams['xtick.color'] = 'black'
plt.rcParams['ytick.color'] = 'black'

fig = plt.figure(figsize=(20.93, 8.65), dpi=100)
ax = fig.add_axes([0.0767, 0.1543, 0.8708, 0.7436])

sns.lineplot(data=df, x=x_label, y=y_label, color='#7f7f7f', linewidth=0.85,
             estimator=None, sort=False, ax=ax)

ax.set_xlim(0, 109.7)
ax.set_ylim(0, 110)
for s in ax.spines.values():
    s.set_visible(True)
    s.set_color('black')
    s.set_linewidth(1.0)

ax.set_xticks(x_major)
ax.set_yticks(y_major)
ax.xaxis.set_minor_locator(MultipleLocator(5))
ax.yaxis.set_minor_locator(MultipleLocator(2))

ax.tick_params(axis='y', which='major', direction='inout', length=16, width=1, color='black',
               left=True, right=True, labelleft=True, labelright=True, labelsize=22.5, pad=15,
               labelcolor='black')
ax.tick_params(axis='y', which='minor', direction='inout', length=8, width=1, color='black',
               left=True, right=True)
ax.tick_params(axis='x', which='major', direction='inout', length=16, width=1, color='black',
               bottom=True, top=False, labelsize=22.5, pad=8, labelcolor='black')
ax.tick_params(axis='x', which='minor', direction='out', length=4, width=1, color='black',
               bottom=True, top=False)

# top edge carries inward ticks only
top = ax.secondary_xaxis('top')
top.set_xticks(x_major)
top.xaxis.set_minor_locator(MultipleLocator(5))
top.tick_params(which='major', direction='in', length=8, width=1, color='black', labeltop=False)
top.tick_params(which='minor', direction='in', length=4, width=1, color='black')
top.spines['top'].set_color('black')
top.spines['top'].set_linewidth(1.0)

ax.set_xlabel(x_label, fontsize=23, fontweight='bold', va='baseline')
ax.set_ylabel(y_label, fontsize=23, fontweight='bold')
ax.xaxis.set_label_coords(0.5, -0.1558)
ax.yaxis.set_label_coords(-0.057, 0.5)

fig.text(0.5, 1 - 56.7 / 865, title, ha='center', va='baseline', fontsize=26, fontweight='bold')

fig.patches.append(Rectangle((0, 0), 1, 1, transform=fig.transFigure, fill=False,
                             edgecolor='black', linewidth=2))

fig.savefig('out.png', dpi=100)
